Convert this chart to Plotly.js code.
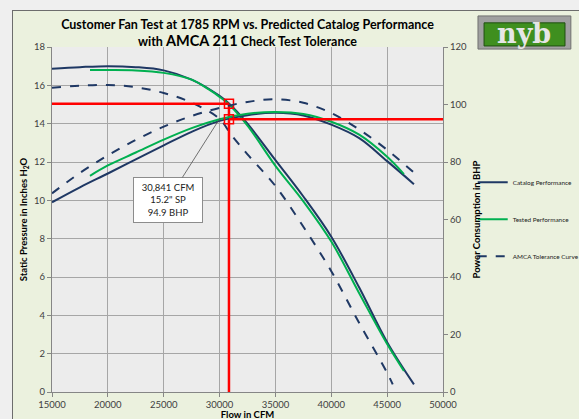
<!DOCTYPE html>
<html>
<head>
<meta charset="utf-8">
<script src="https://cdn.plot.ly/plotly-3.0.1.min.js"></script>
<style>
  html, body { margin:0; padding:0; background:#efefef; width:579px; height:419px; overflow:hidden; }
  #chart { position:absolute; left:12px; top:10px; width:567px; height:409px;
           border-left:1px solid #6d6d6d; border-top:1px solid #6d6d6d; box-sizing:border-box; }
</style>
</head>
<body>
<div id="chart"></div>
<script>
// ---- data ----
const catalogFlow = [15000,17500,20000,22500,25000,27500,30000,30841,32500,35000,37500,40000,42500,45000,47400];
const catalogSP   = [16.87,16.95,17.0,16.95,16.78,16.3,15.45,15.05,14.0,12.1,10.2,8.1,5.45,2.6,0.4];
const catalogBhpFlow = [15000,17500,20000,22500,25000,27500,30000,32500,35000,37500,40000,42500,45000,47400];
const catalogBHP  = [66.0,71.2,76.0,80.9,85.8,90.5,94.3,96.3,97.1,96.2,93.0,88.3,80.3,72.3];

const testedFlow = [18400,20000,22500,25000,27500,29000,30000,30841,32500,35000,37500,40000,42500,45000,46500];
const testedSP   = [16.8,16.8,16.78,16.65,16.3,15.8,15.4,15.0,13.9,11.8,9.95,7.85,5.15,2.5,1.1];
const testedBhpFlow = [18400,20000,22500,25000,27500,30000,32500,35000,37500,40000,42500,45000,46500];
const testedBHP  = [75.2,78.8,83.3,87.8,91.8,94.9,96.8,97.4,96.7,94.0,89.5,81.8,75.8];

const amcaFlow = [15000,17500,20000,22500,25000,27500,30000,31000,32500,35000,37500,40000,42500,45000,45500];
const amcaSP   = [15.87,15.98,16.02,15.9,15.6,15.1,14.25,13.45,12.4,10.75,8.62,6.3,3.6,1.0,0.4];
const amcaBhpFlow = [15000,17500,20000,22500,25000,27500,30000,32500,35000,37500,40000,42500,45000,47400];
const amcaBHP  = [69.1,76.2,82.3,87.7,92.3,96.0,98.8,100.9,101.8,100.6,97.0,91.3,84.2,76.3];

const opFlow = 30841;      // tested operating point, CFM
const opSP = 15.04;        // red SP line as drawn
const opBHP = 94.9;        // red BHP line
const opLabel = ["30,841 CFM", "15.2\" SP", "94.9 BHP"];

const xTicks = [15000,20000,25000,30000,35000,40000,45000,50000];
const spTicks = [0,2,4,6,8,10,12,14,16,18];
const bhpTicks = [0,20,40,60,80,100,120];

// ---- styles ----
const NAVY = '#1f3864', GREEN = '#00b050', RED = '#ff0000';
const FONT = 'Lato, "Open Sans", sans-serif';

const traces = [
  {x: catalogFlow, y: catalogSP, mode:'lines', line:{color:NAVY, width:2, shape:'spline'}, name:'Catalog Performance', legendgroup:'a', showlegend:true},
  {x: catalogBhpFlow, y: catalogBHP, yaxis:'y2', mode:'lines', line:{color:NAVY, width:2, shape:'spline'}, name:'Catalog Performance', legendgroup:'a', showlegend:false},
  {x: testedFlow, y: testedSP, mode:'lines', line:{color:GREEN, width:2, shape:'spline'}, name:'Tested Performance', legendgroup:'b', showlegend:true},
  {x: testedBhpFlow, y: testedBHP, yaxis:'y2', mode:'lines', line:{color:GREEN, width:2, shape:'spline'}, name:'Tested Performance', legendgroup:'b', showlegend:false},
  {x: amcaFlow, y: amcaSP, mode:'lines', line:{color:NAVY, width:2, dash:'dash', shape:'spline'}, name:'AMCA Tolerance Curve', legendgroup:'c', showlegend:true},
  {x: amcaBhpFlow, y: amcaBHP, yaxis:'y2', mode:'lines', line:{color:NAVY, width:2, dash:'dash', shape:'spline'}, name:'AMCA Tolerance Curve', legendgroup:'c', showlegend:false},
  // red operating-point lines
  {x: [15000, opFlow], y: [opSP, opSP], mode:'lines', line:{color:RED, width:2.5}, showlegend:false, hoverinfo:'skip'},
  {x: [opFlow, opFlow], y: [0, opSP], mode:'lines', line:{color:RED, width:2.5}, showlegend:false, hoverinfo:'skip'},
  {x: [opFlow, 50000], y: [opBHP, opBHP], yaxis:'y2', mode:'lines', line:{color:RED, width:2.5}, showlegend:false, hoverinfo:'skip'},
  {x: [opFlow], y: [opSP], mode:'markers', marker:{symbol:'square-open', size:9, color:RED, line:{width:1.5}}, showlegend:false, hoverinfo:'skip'},
  {x: [opFlow], y: [opBHP], yaxis:'y2', mode:'markers', marker:{symbol:'square-open', size:9, color:RED, line:{width:1.5}}, showlegend:false, hoverinfo:'skip'}
];

const axisCommon = {
  showline:true, linecolor:'#868686', linewidth:1, ticks:'outside', ticklen:4, tickcolor:'#868686',
  tickfont:{family:FONT, size:9.5, color:'#404040'}, zeroline:false
};

const layout = {
  width:567, height:409,
  margin:{l:39, r:137, t:36, b:28, pad:0, autoexpand:false},
  paper_bgcolor:'#ebf1de', plot_bgcolor:'#ececec',
  font:{family:FONT, color:'#000'},
  title:{
    text:'<b>Customer Fan Test at 1785 RPM vs. Predicted Catalog Performance<br>with <span style="font-size:14.5px">AMCA 211</span> Check Test Tolerance</b>',
    font:{family:FONT, size:12.5, color:'#000'},
    x:0.5, xref:'paper', xanchor:'center', y:0.955, yref:'container', yanchor:'top'
  },
  xaxis: Object.assign({}, axisCommon, {
    range:[15000,50000], tickvals:xTicks, ticktext:xTicks.map(String),
    showgrid:true, gridcolor:'#a6a6a6', gridwidth:1,
    title:{text:'<b>Flow in CFM</b>', font:{family:FONT, size:9.5}, standoff:2}
  }),
  yaxis: Object.assign({}, axisCommon, {
    range:[0,18], tickvals:spTicks, showgrid:true, gridcolor:'#a6a6a6', gridwidth:1,
    title:{text:'<b>Static Pressure in Inches H<sub>2</sub>O</b>', font:{family:FONT, size:9.5}, standoff:4}
  }),
  yaxis2: Object.assign({}, axisCommon, {
    range:[0,120], tickvals:bhpTicks, overlaying:'y', side:'right', showgrid:false,
    title:{text:'<b>Power Consumption in BHP</b>', font:{family:FONT, size:9.5}, standoff:7}
  }),
  legend:{
    x:1.076, xanchor:'left', y:0.65, yanchor:'top', bgcolor:'rgba(0,0,0,0)',
    font:{family:FONT, size:6.4, color:'#222'}, tracegroupgap:18, itemwidth:30
  },
  showlegend:true,
  annotations:[
    {
      x: 30050, y: 14.3, xref:'x', yref:'y',
      text: opLabel.join('<br>'), showarrow:true, arrowhead:0, arrowwidth:0.8, arrowcolor:'#505050',
      ax:-52, ay:82, bgcolor:'#ffffff', bordercolor:'#8c8c8c', borderwidth:1, borderpad:4, width:60,
      font:{family:FONT, size:9.5, color:'#222'}, align:'center'
    },
    {
      x:1.208, y:1.04, xref:'paper', yref:'paper', xanchor:'center', yanchor:'middle',
      text:'<b>nyb</b>', showarrow:false,
      font:{family:'"DejaVu Serif", serif', size:27, color:'#e6e6e6'}
    }
  ],
  shapes:[
    {type:'rect', xref:'paper', yref:'paper', x0:1.0895, x1:1.327, y0:0.994, y1:1.09,
     fillcolor:'#a0a0a0', line:{color:'#707070', width:1}, layer:'below'},
    {type:'rect', xref:'paper', yref:'paper', x0:1.105, x1:1.312, y0:1.003, y1:1.07,
     fillcolor:'#3f8f1f', line:{color:'#1f4f10', width:1}, layer:'below'}
  ]
};

Plotly.newPlot('chart', traces, layout, {displayModeBar:false, staticPlot:true});
</script>
</body>
</html>
